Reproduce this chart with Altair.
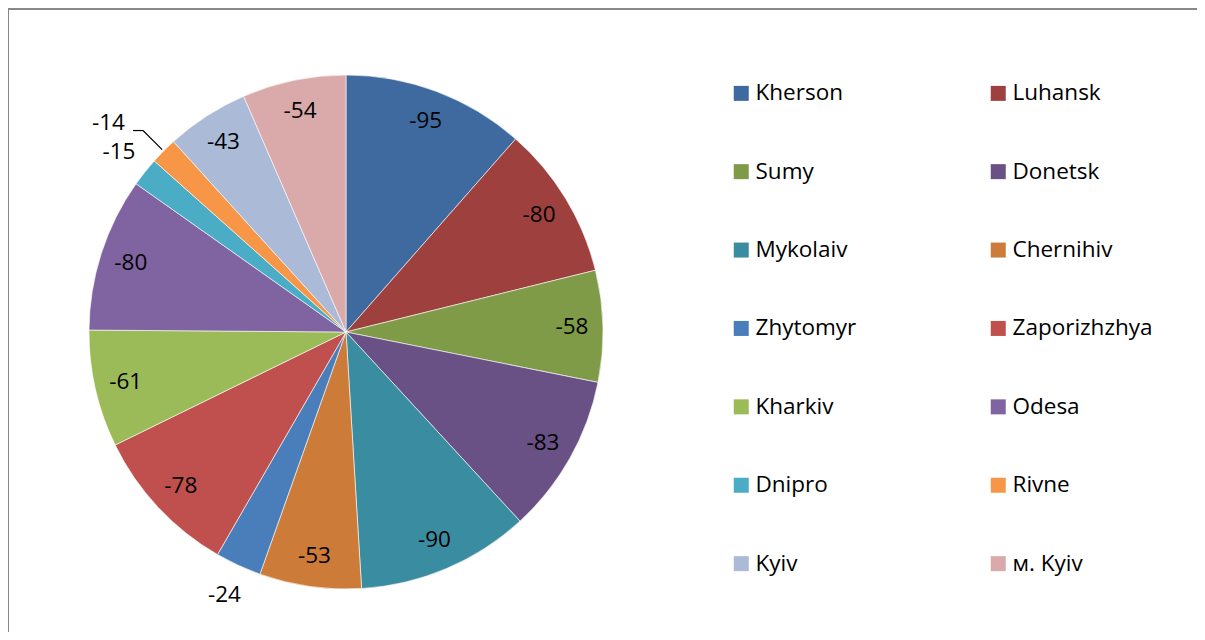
import altair as alt
import pandas as pd

names = ["Kherson", "Luhansk", "Sumy", "Donetsk", "Mykolaiv", "Chernihiv", "Zhytomyr",
         "Zaporizhzhya", "Kharkiv", "Odesa", "Dnipro", "Rivne", "Kyiv", "м. Kyiv"]
values = [-95, -80, -58, -83, -90, -53, -24, -78, -61, -80, -15, -14, -43, -54]
colors = ["#3F6A9F", "#9E413E", "#7F9B48", "#695185", "#3A8DA0", "#CC7B38", "#4A7EBB",
          "#C0504D", "#9BBB59", "#8064A2", "#4BACC6", "#F79646", "#AABAD7", "#D9AAA9"]

df = pd.DataFrame({"name": names, "value": values, "idx": list(range(len(names)))})

# legend is filled column by column: reorder so it reads row by row (2 columns)
leg_domain = names[0::2] + names[1::2]
leg_range = colors[0::2] + colors[1::2]

CX, CY, R = 338, 324, 257
FONT = "Open Sans"
FS = 22.5

base = alt.Chart(df).transform_calculate(a="abs(datum.value)", lab="'' + datum.value")

pie = base.mark_arc(radius=R, stroke="white", strokeWidth=0.6).encode(
    theta=alt.Theta("a:Q", stack=True),
    order=alt.Order("idx:Q"),
    color=alt.Color(
        "name:N",
        sort=leg_domain,
        scale=alt.Scale(domain=leg_domain, range=leg_range),
        legend=alt.Legend(
            orient="none", legendX=722, legendY=74, columns=2,
            columnPadding=130, rowPadding=55.4, symbolType="square",
            symbolSize=225, symbolStrokeWidth=0, labelFont=FONT,
            labelFontSize=FS, labelColor="black", labelOffset=3,
            title=None, padding=0, labelLimit=300,
        ),
    ),
    x=alt.value(CX),
    y=alt.value(CY),
)

geo = (
    base.transform_window(cum="sum(a)", sort=[alt.SortField("idx")], frame=[None, 0])
    .transform_joinaggregate(tot="sum(a)")
    .transform_calculate(mid="(datum.cum - datum.a/2)/datum.tot*2*PI")
    .transform_calculate(
        r="datum.a < 30 ? 290 : 226",
        ex=f"{CX} + 286*sin(datum.mid)",
        ey=f"{CY} - 286*cos(datum.mid)",
        sx=f"{CX} + 259*sin(datum.mid)",
        sy=f"{CY} - 259*cos(datum.mid)",
    )
    .transform_calculate(
        lx=f"{CX} + datum.r*sin(datum.mid)",
        ly=f"{CY} - datum.r*cos(datum.mid)",
        hx="datum.ex - 10",
        tx="datum.ex - 18",
        ty="datum.ey - 8",
    )
)

labels = geo.transform_filter("datum.a >= 15").mark_text(
    font=FONT, fontSize=FS, color="black", baseline="middle", align="center"
).encode(
    x=alt.X("lx:Q", scale=None, axis=None),
    y=alt.Y("ly:Q", scale=None, axis=None),
    text=alt.Text("lab:N"),
)

small = geo.transform_filter("datum.a < 15")

lead1 = small.mark_rule(color="black", strokeWidth=1.2).encode(
    x=alt.X("sx:Q", scale=None, axis=None),
    y=alt.Y("sy:Q", scale=None, axis=None),
    x2="ex:Q",
    y2="ey:Q",
)
lead2 = small.mark_rule(color="black", strokeWidth=1.2).encode(
    x=alt.X("ex:Q", scale=None, axis=None),
    y=alt.Y("ey:Q", scale=None, axis=None),
    x2="hx:Q",
    y2="ey:Q",
)
small_label = small.mark_text(
    font=FONT, fontSize=FS, color="black", baseline="middle", align="right"
).encode(
    x=alt.X("tx:Q", scale=None, axis=None),
    y=alt.Y("ty:Q", scale=None, axis=None),
    text=alt.Text("lab:N"),
)

# chart frame: only its top and left edges fall inside the picture
frame_top = alt.Chart(df).mark_rule(color="#888888", strokeWidth=2).encode(
    x=alt.value(-1), x2=alt.value(1200), y=alt.value(1)
)
frame_left = alt.Chart(df).mark_rule(color="#888888", strokeWidth=2).encode(
    x=alt.value(0), y=alt.value(0), y2=alt.value(640)
)

chart = (
    alt.layer(pie, labels, lead1, lead2, small_label, frame_top, frame_left)
    .properties(width=1189, height=624, padding=0,
                autosize=alt.AutoSizeParams(type="none"))
    .configure_view(strokeWidth=0)
    .configure(background="white")
)

chart.save("out.html", embed_options={"renderer": "svg", "actions": False})
